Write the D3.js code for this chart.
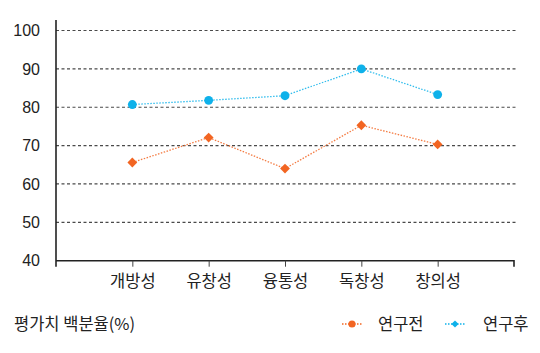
<!DOCTYPE html>
<html>
<head>
<meta charset="utf-8">
<script src="https://cdn.jsdelivr.net/npm/d3@7"></script>
<style>
  body { margin: 0; background: #fff; }
  svg { display: block; }
</style>
</head>
<body>
<div id="chart"></div>
<script>
const categories = ["개방성", "유창성", "융통성", "독창성", "창의성"];
const before = [65.6, 72.1, 64.0, 75.3, 70.3];
const after = [80.7, 81.8, 83.0, 90.0, 83.3];
const yTicks = [40, 50, 60, 70, 80, 90, 100];
const seriesNames = ["연구전", "연구후"];
const yTitle = "평가치 백분율(%)";

const width = 540;
const height = 353;
const plotLeft = 56, plotRight = 514, plotTop = 30.5, plotBottom = 260.7;

const orange = "#f26522";
const blue = "#0eb1ea";
const krFont = "'Noto Sans CJK KR', 'Noto Sans', sans-serif";
const numFont = "'Liberation Sans', Arial, sans-serif";

const svg = d3.select("#chart")
    .append("svg")
    .attr("width", width)
    .attr("height", height);

const x = d3.scalePoint()
    .domain(categories)
    .range([plotLeft, plotRight])
    .padding(1);

const y = d3.scaleLinear()
    .domain([40, 100])
    .range([plotBottom, plotTop]);

// gridlines
svg.append("g")
    .selectAll("line")
    .data(yTicks.filter(t => t > 40))
    .enter()
    .append("line")
    .attr("x1", plotLeft)
    .attr("x2", plotRight + 2)
    .attr("y1", d => y(d))
    .attr("y2", d => y(d))
    .style("stroke", "#4a4a4a")
    .style("stroke-width", 1.2)
    .style("stroke-dasharray", "3,2.5");

// y tick labels
svg.append("g")
    .selectAll("text")
    .data(yTicks)
    .enter()
    .append("text")
    .attr("x", 40)
    .attr("y", d => y(d))
    .attr("dy", "0.36em")
    .attr("text-anchor", "end")
    .style("font-family", numFont)
    .style("font-size", "16px")
    .style("fill", "#222")
    .text(d => d);

// y axis line
svg.append("line")
    .attr("x1", plotLeft)
    .attr("x2", plotLeft)
    .attr("y1", 20)
    .attr("y2", plotBottom + 6)
    .style("stroke", "#222")
    .style("stroke-width", 1.6);

// x axis
const xAxis = svg.append("g")
    .attr("transform", `translate(0,${plotBottom})`)
    .call(d3.axisBottom(x).tickSize(6).tickPadding(9));
xAxis.select(".domain")
    .attr("d", `M${plotLeft},0H${plotRight}V6`)
    .style("stroke", "#222")
    .style("stroke-width", 1.6);
xAxis.selectAll(".tick line").style("stroke", "#444");
xAxis.selectAll(".tick text")
    .style("font-family", krFont)
    .style("font-size", "16.5px")
    .style("fill", "#222");

const line = d3.line()
    .x((d, i) => x(categories[i]))
    .y(d => y(d));

function drawSeries(values, color, shape) {
    svg.append("path")
        .datum(values)
        .attr("d", line)
        .style("fill", "none")
        .style("stroke", color)
        .style("stroke-width", 1.3)
        .style("stroke-dasharray", "1.5,1.5")
        .style("opacity", 0.85);
    svg.append("g")
        .selectAll("path")
        .data(values)
        .enter()
        .append("path")
        .attr("d", d3.symbol().type(shape).size(shape === d3.symbolCircle ? 62 : 48))
        .attr("transform", (d, i) => `translate(${x(categories[i])},${y(d)})` + (shape === d3.symbolSquare ? " rotate(45)" : ""))
        .style("fill", color);
}

drawSeries(before, orange, d3.symbolSquare);
drawSeries(after, blue, d3.symbolCircle);

// y title at bottom
svg.append("text")
    .attr("x", 14)
    .attr("y", 324)
    .attr("dy", "0.35em")
    .style("font-family", krFont)
    .style("font-size", "16.5px")
    .style("fill", "#222")
    .text(yTitle);

// legend (markers as drawn in the source: orange dot, blue diamond)
const legendItems = [
    { name: seriesNames[0], color: orange, shape: d3.symbolCircle, lx: 342, tx: 378 },
    { name: seriesNames[1], color: blue, shape: d3.symbolSquare, lx: 445, tx: 483 }
];
legendItems.forEach(item => {
    const g = svg.append("g");
    g.append("line")
        .attr("x1", item.lx)
        .attr("x2", item.lx + 20)
        .attr("y1", 324)
        .attr("y2", 324)
        .style("stroke", item.color)
        .style("stroke-width", 1.3)
        .style("stroke-dasharray", "1.5,1.5");
    g.append("path")
        .attr("d", d3.symbol().type(item.shape).size(item.shape === d3.symbolCircle ? 40 : 26))
        .attr("transform", `translate(${item.lx + 10},324)` + (item.shape === d3.symbolSquare ? " rotate(45)" : ""))
        .style("fill", item.color);
    g.append("text")
        .attr("x", item.tx)
        .attr("y", 324)
        .attr("dy", "0.35em")
        .style("font-family", krFont)
        .style("font-size", "16.5px")
        .style("fill", "#222")
        .text(item.name);
});
</script>
</body>
</html>
